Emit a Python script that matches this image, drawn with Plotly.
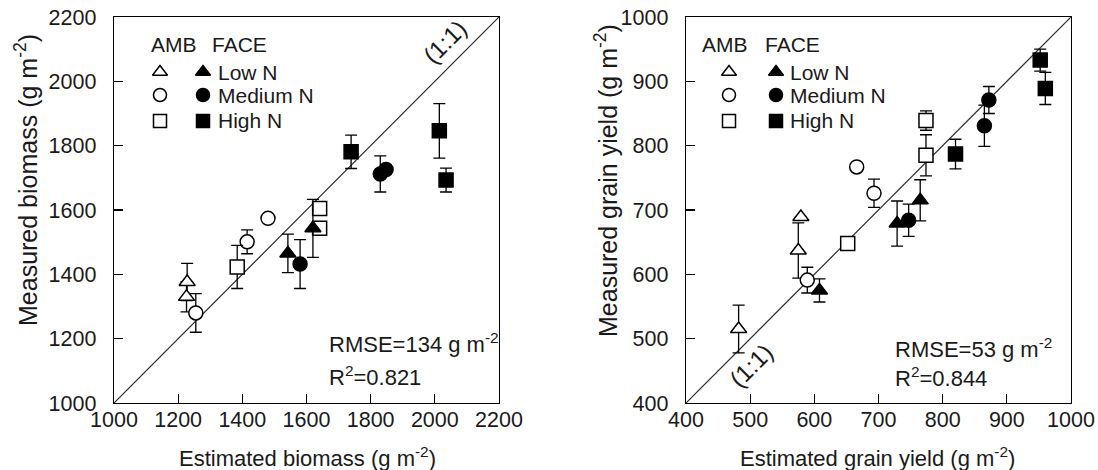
import plotly.graph_objects as go

W, H = 1098, 470

# ---------------- data: biomass (left) ----------------
bio_amb_low_est = [1228, 1226]
bio_amb_low_meas = [1376, 1330]
bio_amb_low_err = [58, 47]
bio_amb_med_est = [1255, 1415, 1480]
bio_amb_med_meas = [1280, 1501, 1574]
bio_amb_med_err = [60, 37, 0]
bio_amb_high_est = [1384, 1641, 1641]
bio_amb_high_meas = [1423, 1605, 1543]
bio_amb_high_err = [67, 0, 0]
bio_face_low_est = [1542, 1620]
bio_face_low_meas = [1465, 1543]
bio_face_low_err = [60, 90]
bio_face_med_est = [1580, 1830, 1848]
bio_face_med_meas = [1432, 1712, 1726]
bio_face_med_err = [76, 56, 0]
bio_face_high_est = [1739, 2014, 2035]
bio_face_high_meas = [1781, 1846, 1693]
bio_face_high_err = [52, 85, 37]

# ---------------- data: grain yield (right) ----------------
gy_amb_low_est = [482, 575, 579]
gy_amb_low_meas = [515, 637, 689]
gy_amb_low_err = [37, 43, 0]
gy_amb_med_est = [589, 666, 693]
gy_amb_med_meas = [591, 767, 726]
gy_amb_med_err = [20, 0, 22]
gy_amb_high_est = [652, 774, 774]
gy_amb_high_meas = [648, 839, 785]
gy_amb_high_err = [0, 15, 32]
gy_face_low_est = [608, 729, 765]
gy_face_low_meas = [575, 679, 715]
gy_face_low_err = [18, 35, 32]
gy_face_med_est = [747, 865, 872]
gy_face_med_meas = [684, 831, 871]
gy_face_med_err = [25, 32, 21]
gy_face_high_est = [820, 952, 960]
gy_face_high_meas = [787, 933, 889]
gy_face_high_err = [23, 17, 25]

bio_range = [1000, 2200]
gy_range = [400, 1000]
bio_ticks = [1000, 1200, 1400, 1600, 1800, 2000, 2200]
gy_ticks = [400, 500, 600, 700, 800, 900, 1000]

bio_stats = ["RMSE=134 g m<sup>-2</sup>", "R<sup>2</sup>=0.821"]
gy_stats = ["RMSE=53 g m<sup>-2</sup>", "R<sup>2</sup>=0.844"]

FONT = "Liberation Sans, Arial, sans-serif"
TXT = "#1a1a1a"
FS = 21

# plot area in pixels
L_X0, L_X1 = 114, 499
R_X0, R_X1 = 686, 1071
Y_TOP, Y_BOT = 17, 403

fig = go.Figure()

def px(x):
    return x / W

def py(y):
    return 1 - y / H

MS = 14

def add_group(xs, ys, errs, symbol, filled, xa, ya):
    fig.add_trace(go.Scatter(
        x=xs, y=ys, mode="markers", xaxis=xa, yaxis=ya,
        error_y=dict(type="data", array=errs, visible=True, color="black",
                     thickness=1.3, width=6),
        marker=dict(symbol=symbol, size=MS,
                    color="black" if filled else "white",
                    line=dict(color="black", width=1.5)),
        showlegend=False, hoverinfo="skip", cliponaxis=False,
    ))

# 1:1 lines
fig.add_trace(go.Scatter(x=bio_range, y=bio_range, mode="lines", xaxis="x", yaxis="y",
                         line=dict(color="#2a2a2a", width=1.2), showlegend=False, hoverinfo="skip"))
fig.add_trace(go.Scatter(x=gy_range, y=gy_range, mode="lines", xaxis="x2", yaxis="y2",
                         line=dict(color="#2a2a2a", width=1.2), showlegend=False, hoverinfo="skip"))

# left groups
add_group(bio_amb_low_est, bio_amb_low_meas, bio_amb_low_err, "triangle-up", False, "x", "y")
add_group(bio_amb_med_est, bio_amb_med_meas, bio_amb_med_err, "circle", False, "x", "y")
add_group(bio_amb_high_est, bio_amb_high_meas, bio_amb_high_err, "square", False, "x", "y")
add_group(bio_face_low_est, bio_face_low_meas, bio_face_low_err, "triangle-up", True, "x", "y")
add_group(bio_face_med_est, bio_face_med_meas, bio_face_med_err, "circle", True, "x", "y")
add_group(bio_face_high_est, bio_face_high_meas, bio_face_high_err, "square", True, "x", "y")

# right groups
add_group(gy_amb_low_est, gy_amb_low_meas, gy_amb_low_err, "triangle-up", False, "x2", "y2")
add_group(gy_amb_med_est, gy_amb_med_meas, gy_amb_med_err, "circle", False, "x2", "y2")
add_group(gy_amb_high_est, gy_amb_high_meas, gy_amb_high_err, "square", False, "x2", "y2")
add_group(gy_face_low_est, gy_face_low_meas, gy_face_low_err, "triangle-up", True, "x2", "y2")
add_group(gy_face_med_est, gy_face_med_meas, gy_face_med_err, "circle", True, "x2", "y2")
add_group(gy_face_high_est, gy_face_high_meas, gy_face_high_err, "square", True, "x2", "y2")

# legend glyphs on an overlay axis measured in pixels
legend_symbols = ["triangle-up", "circle", "square"]
legend_labels = ["Low N", "Medium N", "High N"]
legend_rows = [72, 95, 121]
legend_cols = {"left": (160, 203), "right": (729, 776)}
for key, (xa_px, xf_px) in legend_cols.items():
    for sym, row in zip(legend_symbols, legend_rows):
        fig.add_trace(go.Scatter(x=[xa_px], y=[row], mode="markers", xaxis="x3", yaxis="y3",
                                 marker=dict(symbol=sym, size=13, color="white",
                                             line=dict(color="black", width=1.5)),
                                 showlegend=False, hoverinfo="skip", cliponaxis=False))
        fig.add_trace(go.Scatter(x=[xf_px], y=[row], mode="markers", xaxis="x3", yaxis="y3",
                                 marker=dict(symbol=sym, size=13, color="black",
                                             line=dict(color="black", width=1.5)),
                                 showlegend=False, hoverinfo="skip", cliponaxis=False))

ann = []
def text(x, y, s, xanchor="center", angle=0, size=FS):
    ann.append(dict(x=px(x), y=py(y), xref="paper", yref="paper", text=s, showarrow=False,
                    xanchor=xanchor, yanchor="middle", textangle=angle,
                    font=dict(family=FONT, size=size, color=TXT)))

# legend text
for base_amb, base_face, base_lab in [(149, 210, 216), (700, 763, 788)]:
    text(base_amb, 44, "AMB", "left")
    text(base_face, 44, "FACE", "left")
    for lab, row in zip(legend_labels, legend_rows):
        text(base_lab, row, lab, "left")

# stats
text(327, 343, bio_stats[0], "left", size=22)
text(327, 376, bio_stats[1], "left", size=22)
text(893, 348, gy_stats[0], "left", size=22)
text(893, 377, gy_stats[1], "left", size=22)

# 1:1 labels
text(444, 42, "(1:1)", angle=-45, size=24)
text(751, 365, "(1:1)", angle=-45, size=24)

# axis titles
text(307, 457, "Estimated biomass (g m<sup>-2</sup>)", size=22)
text(877, 457, "Estimated grain yield (g m<sup>-2</sup>)", size=22)
text(26, 180, "Measured biomass (g m<sup>-2</sup>)", angle=-90, size=25)
text(606, 180, "Measured grain yield (g m<sup>-2</sup>)", angle=-90, size=25)

axis_common = dict(showgrid=False, zeroline=False, showline=True, linecolor="black",
                   linewidth=1.3, mirror=True, ticks="inside", ticklen=9, tickwidth=1.3,
                   tickcolor="black", tickfont=dict(family=FONT, size=21.5, color=TXT),
                   automargin=False, ticklabeloverflow="allow")

fig.update_layout(
    width=W, height=H,
    margin=dict(l=0, r=0, t=0, b=0),
    paper_bgcolor="white", plot_bgcolor="rgba(0,0,0,0)",
    xaxis=dict(domain=[px(L_X0), px(L_X1)], range=bio_range, tickvals=bio_ticks,
               anchor="y", ticklabelstandoff=-3, **axis_common),
    yaxis=dict(domain=[py(Y_BOT), py(Y_TOP)], range=bio_range, tickvals=bio_ticks,
               anchor="x", ticklabelstandoff=12, **axis_common),
    xaxis2=dict(domain=[px(R_X0), px(R_X1)], range=gy_range, tickvals=gy_ticks,
                anchor="y2", ticklabelstandoff=-3, **axis_common),
    yaxis2=dict(domain=[py(Y_BOT), py(Y_TOP)], range=gy_range, tickvals=gy_ticks,
                anchor="x2", ticklabelstandoff=12, **axis_common),
    xaxis3=dict(domain=[0, 1], range=[0, W], visible=False, anchor="y3", fixedrange=True),
    yaxis3=dict(domain=[0, 1], range=[H, 0], visible=False, anchor="x3", fixedrange=True),
    annotations=ann,
    showlegend=False,
    hovermode=False,
)

fig.write_html("out.html",
               config={"displayModeBar": False, "staticPlot": True},
               post_script="document.body.style.margin='0';document.body.style.overflow='hidden';")
